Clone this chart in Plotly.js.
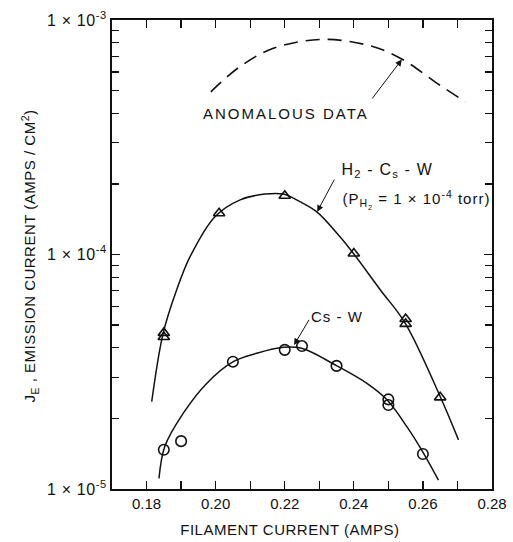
<!DOCTYPE html>
<html>
<head>
<meta charset="utf-8">
<script src="https://cdn.plot.ly/plotly-3.0.1.min.js"></script>
<style>
  html, body { margin: 0; padding: 0; background: #fff; }
  #chart { width: 513px; height: 542px; }
  /* wide, hand-lettered spacing for the in-plot labels */
  .annotation[data-index="0"] text { letter-spacing: 2px; }
  .annotation[data-index="2"] text { letter-spacing: 1.2px; }
  .annotation[data-index="3"] text { letter-spacing: 1px; }
  .annotation[data-index="5"] text { letter-spacing: 1px; }
  .annotation[data-index="7"] text { letter-spacing: 0.5px; }
  .annotation[data-index="8"] text { letter-spacing: 0.5px; }
  .ytick text { letter-spacing: 0.6px; }
</style>
</head>
<body>
<div id="chart"></div>
<script>
// Dashed curve: anomalous emission data
const anomalousX = [0.1986, 0.2070, 0.2167, 0.2312, 0.2457, 0.2544, 0.2641, 0.2723];
const anomalousY = [4.94e-4, 6.32e-4, 7.57e-4, 8.27e-4, 7.69e-4, 6.75e-4, 5.37e-4, 4.48e-4];

// H2 - Cs - W: measured points (triangles) and drawn-through curve
const h2PointsX = [0.185, 0.185, 0.201, 0.220, 0.240, 0.255, 0.255, 0.265];
const h2PointsY = [4.63e-5, 4.45e-5, 1.50e-4, 1.78e-4, 1.01e-4, 5.31e-5, 5.06e-5, 2.46e-5];
const h2CurveX = [0.1815, 0.1848, 0.1887, 0.1926, 0.1998, 0.2071, 0.2143, 0.2196, 0.2244, 0.2293, 0.2360, 0.2399, 0.2477, 0.2549, 0.2650, 0.2703];
const h2CurveY = [2.36e-5, 4.61e-5, 7.06e-5, 9.79e-5, 1.45e-4, 1.71e-4, 1.81e-4, 1.81e-4, 1.68e-4, 1.52e-4, 1.19e-4, 1.01e-4, 7.06e-5, 5.09e-5, 2.48e-5, 1.62e-5];

// Cs - W: measured points (circles) and drawn-through curve
const csPointsX = [0.185, 0.190, 0.205, 0.220, 0.225, 0.235, 0.250, 0.250, 0.260];
const csPointsY = [1.47e-5, 1.60e-5, 3.49e-5, 3.92e-5, 4.07e-5, 3.35e-5, 2.41e-5, 2.28e-5, 1.41e-5];
const csCurveX = [0.1836, 0.1853, 0.1906, 0.1974, 0.2051, 0.2119, 0.2196, 0.2249, 0.2351, 0.2438, 0.2496, 0.2554, 0.2602, 0.2645];
const csCurveY = [1.11e-5, 1.52e-5, 2.10e-5, 2.82e-5, 3.49e-5, 3.79e-5, 4.02e-5, 3.98e-5, 3.35e-5, 2.82e-5, 2.40e-5, 1.84e-5, 1.42e-5, 1.09e-5];

// Axis ticks
const xMajorVals = [0.18, 0.20, 0.22, 0.24, 0.26, 0.28];
const xMajorText = ['0.18', '0.20', '0.22', '0.24', '0.26', '0.28'];
const xMinorVals = [0.19, 0.21, 0.23, 0.25, 0.27];
const yMajorVals = [1e-5, 1e-4, 1e-3];
const yMajorText = ['1 × 10<sup>-5</sup>', '1 × 10<sup>-4</sup>', '1 × 10<sup>-3</sup>'];
const yMinorMantissas = [2, 3, 4, 5, 6, 7, 8, 9];
const yMinorDecades = [1e-5, 1e-4];

// Axis titles
const xTitle = 'FILAMENT CURRENT (AMPS)';
const yTitle = 'J<sub>E</sub> , EMISSION CURRENT (AMPS / CM<sup>2</sup>)';

const yMinorVals = [];
yMinorDecades.forEach(d => yMinorMantissas.forEach(m => yMinorVals.push(m * d)));

const ink = '#111';
const FONT = 'Liberation Sans, Arial, sans-serif';

const traces = [
  {
    x: anomalousX, y: anomalousY, mode: 'lines',
    line: { color: ink, width: 1.6, dash: '14px,8px', shape: 'spline' },
    hoverinfo: 'skip'
  },
  {
    x: h2CurveX, y: h2CurveY, mode: 'lines',
    line: { color: ink, width: 1.5, shape: 'spline' },
    hoverinfo: 'skip'
  },
  {
    x: csCurveX, y: csCurveY, mode: 'lines',
    line: { color: ink, width: 1.5, shape: 'spline' },
    hoverinfo: 'skip'
  },
  {
    x: h2PointsX, y: h2PointsY, mode: 'markers',
    marker: { symbol: 'triangle-up-open', size: 10, color: ink, line: { width: 1.6, color: ink } }
  },
  {
    x: csPointsX, y: csPointsY, mode: 'markers',
    marker: { symbol: 'circle-open', size: 10.5, color: ink, line: { width: 1.6, color: ink } }
  }
];

const arrowStyle = { showarrow: true, arrowhead: 2, arrowsize: 1.3, arrowwidth: 1, arrowcolor: ink,
  axref: 'x', ayref: 'y', standoff: 0, startstandoff: 0, text: '' };

const labelFont = { family: FONT, size: 15, color: ink };

const layout = {
  width: 513, height: 542,
  margin: { l: 112, r: 21, t: 20, b: 53 },
  paper_bgcolor: '#fff', plot_bgcolor: '#fff',
  showlegend: false,
  font: { family: FONT, size: 15, color: ink },
  xaxis: {
    range: [0.17, 0.28],
    tickmode: 'array', tickvals: xMajorVals, ticktext: xMajorText,
    ticks: 'inside', ticklen: 8, tickwidth: 1.2, tickcolor: ink,
    minor: { tickmode: 'array', tickvals: xMinorVals, ticks: 'inside', ticklen: 8, tickwidth: 1.2, tickcolor: ink, showgrid: false },
    showline: true, linecolor: ink, linewidth: 2, mirror: 'allticks',
    showgrid: false, zeroline: false,
    tickfont: { family: FONT, size: 15, color: ink }
  },
  yaxis: {
    type: 'log', range: [-5, -3],
    tickmode: 'array', tickvals: yMajorVals, ticktext: yMajorText,
    ticks: 'inside', ticklen: 8, tickwidth: 1.2, tickcolor: ink,
    minor: { tickmode: 'array', tickvals: yMinorVals, ticks: 'inside', ticklen: 7, tickwidth: 1.2, tickcolor: ink, showgrid: false },
    showline: true, linecolor: ink, linewidth: 2, mirror: 'allticks',
    showgrid: false, zeroline: false,
    tickfont: { family: FONT, size: 16, color: ink }
  },
  annotations: [
    { x: 0.2205, y: -3.3966, xref: 'x', yref: 'y', xanchor: 'center', yanchor: 'middle',
      text: 'ANOMALOUS DATA', showarrow: false, font: labelFont },
    Object.assign({ x: 0.2539, y: -3.1684, ax: 0.2450, ay: -3.3412, xref: 'x', yref: 'y' }, arrowStyle),

    { x: 0.2497, y: -3.6439, xref: 'x', yref: 'y', xanchor: 'center', yanchor: 'middle',
      text: 'H<sub>2</sub> - C<sub>s</sub> - W', showarrow: false, font: { family: FONT, size: 16, color: ink } },
    { x: 0.2581, y: -3.7676, xref: 'x', yref: 'y', xanchor: 'center', yanchor: 'middle',
      text: '(P<sub>H<sub>2</sub></sub> = 1 × 10<sup>-4</sup> torr)', showarrow: false, font: labelFont },
    Object.assign({ x: 0.2294, y: -3.8175, ax: 0.2346, ay: -3.6738, xref: 'x', yref: 'y' }, arrowStyle),

    { x: 0.2352, y: -4.2623, xref: 'x', yref: 'y', xanchor: 'center', yanchor: 'middle',
      text: 'Cs - W', showarrow: false, font: labelFont },
    Object.assign({ x: 0.2227, y: -4.3859, ax: 0.2273, ay: -4.2721, xref: 'x', yref: 'y' }, arrowStyle),

    { x: 0.4684, y: -0.0853, xref: 'paper', yref: 'paper', xanchor: 'center', yanchor: 'middle',
      text: xTitle, showarrow: false, font: labelFont },
    { x: -0.2158, y: 0.497, xref: 'paper', yref: 'paper', xanchor: 'center', yanchor: 'middle',
      textangle: -90, text: yTitle, showarrow: false, font: labelFont }
  ]
};

Plotly.newPlot('chart', traces, layout, { staticPlot: true, displayModeBar: false });
</script>
</body>
</html>
